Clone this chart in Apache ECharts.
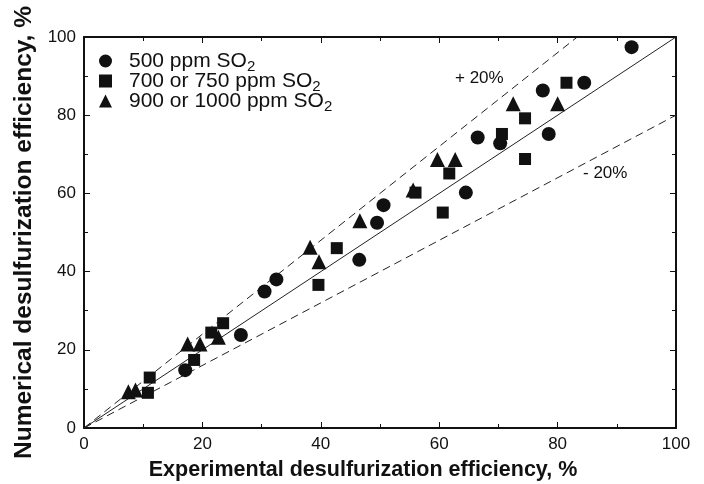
<!DOCTYPE html>
<html><head><meta charset="utf-8">
<script src="https://cdn.jsdelivr.net/npm/echarts@6/dist/echarts.min.js"></script>
<style>html,body{margin:0;padding:0;background:#fff}#c{width:704px;height:484px}</style>
</head><body><div id="c"></div>
<script>
const seriesNames = ['500 ppm SO2', '700 or 750 ppm SO2', '900 or 1000 ppm SO2'];
const circles = [[92.5,97.4],[84.5,88.3],[77.5,86.3],[78.5,75.2],[70.3,72.8],[66.5,74.3],[64.5,60.2],[50.6,57.0],[49.5,52.5],[46.5,43.0],[32.5,38.0],[30.5,34.9],[26.5,23.8],[17.1,14.8]];
const squares = [[81.5,88.3],[74.5,79.2],[70.6,75.2],[74.5,68.8],[61.7,65.1],[56.0,60.2],[60.6,55.1],[42.7,46.0],[39.6,36.6],[23.5,26.8],[21.5,24.4],[18.6,17.4],[11.1,12.9],[10.8,9.0]];
const triangles = [[72.5,82.9],[80.0,82.9],[59.7,68.7],[62.7,68.7],[55.6,60.9],[46.6,53.0],[38.2,46.2],[39.7,42.5],[17.5,21.5],[19.6,21.5],[22.7,23.2],[7.5,9.3],[8.7,9.7]];
const parityLine = [[0,0],[100,100]];
const plusLine = [[0,0],[83.33,100]];
const minusLine = [[0,0],[100,80]];
const xTitle = 'Experimental desulfurization efficiency, %';
const yTitle = 'Numerical desulfurization efficiency, %';

const chart = echarts.init(document.getElementById('c'));
const FONT = '"Liberation Sans", Arial, sans-serif';
function axis(pos, show, name) {
  return {
    type: 'value', position: pos, min: 0, max: 100, interval: 20,
    name: name || '', nameLocation: 'middle',
    nameGap: pos === 'left' ? 47 : 31,
    nameTextStyle: pos === 'left'
      ? {fontFamily: FONT, fontWeight: 'bold', fontSize: 24.5, color: '#111'}
      : {fontFamily: FONT, fontWeight: 'bold', fontSize: 21.5, color: '#111', padding: [0, 34, 0, 0]},
    axisLine: {show: true, onZero: false, lineStyle: {color: '#111', width: 2}},
    axisTick: {show: true, inside: true, length: 6, lineStyle: {color: '#111', width: 1}},
    minorTick: {show: true, splitNumber: 2, length: 4, lineStyle: {color: '#111', width: 1}},
    axisLabel: {show: show, fontFamily: FONT, fontSize: 17, color: '#111', margin: 8},
    splitLine: {show: false}
  };
}
const xa = [axis('bottom', true, xTitle), axis('top', false)];
const ya = [axis('left', true, yTitle), axis('right', false)];
const mk = (name, sym, size, data) => ({
  name, type: 'scatter', symbol: sym, symbolSize: size, data,
  itemStyle: {color: '#111', opacity: 1}, z: 5
});
const ln = (data, dashed) => ({
  type: 'line', data, symbol: 'none', silent: true, z: 2,
  lineStyle: {color: '#222', width: 1, type: dashed ? [8, 5] : 'solid'}
});
chart.setOption({
  animation: false,
  grid: {left: 84, right: 28, top: 37, bottom: 56, containLabel: false, outerBoundsMode: 'none'},
  xAxis: xa,
  yAxis: ya,
  legend: {
    left: 94, top: 43, orient: 'vertical', itemGap: -6, itemWidth: 13, itemHeight: 13,
    data: seriesNames,
    formatter: n => '{m|' + n.replace('SO2', 'SO') + '}{s|2}',
    textStyle: {fontFamily: FONT, fontSize: 21, color: '#111', lineHeight: 26, padding: [0, 0, 0, 12],
      rich: {
        m: {fontFamily: FONT, fontSize: 21, color: '#111', lineHeight: 26},
        s: {fontFamily: FONT, fontSize: 15, color: '#111', lineHeight: 12, verticalAlign: 'bottom'}
      }}
  },
  series: [
    ln(parityLine, false), ln(plusLine, true), ln(minusLine, true),
    mk(seriesNames[0], 'circle', 14, circles),
    mk(seriesNames[1], 'rect', 12, squares),
    mk(seriesNames[2], 'triangle', 15, triangles)
  ],
  graphic: [
    {type: 'text', left: 455, top: 70, style: {text: '+ 20%', font: '17px ' + FONT, fill: '#111'}},
    {type: 'text', left: 583, top: 165, style: {text: '- 20%', font: '17px ' + FONT, fill: '#111'}}
  ]
});
</script></body></html>
